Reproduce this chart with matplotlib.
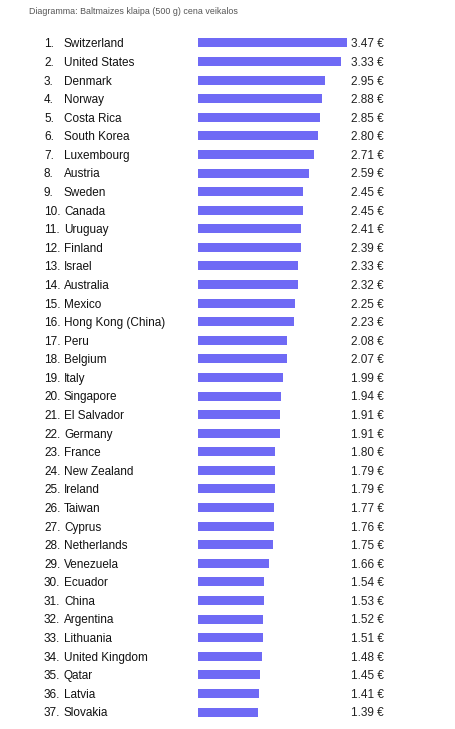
import matplotlib
matplotlib.use("Agg")
import matplotlib.pyplot as plt
from matplotlib.transforms import blended_transform_factory, ScaledTranslation

countries = ["Switzerland", "United States", "Denmark", "Norway", "Costa Rica",
             "South Korea", "Luxembourg", "Austria", "Sweden", "Canada", "Uruguay",
             "Finland", "Israel", "Australia", "Mexico", "Hong Kong (China)", "Peru",
             "Belgium", "Italy", "Singapore", "El Salvador", "Germany", "France",
             "New Zealand", "Ireland", "Taiwan", "Cyprus", "Netherlands", "Venezuela",
             "Ecuador", "China", "Argentina", "Lithuania", "United Kingdom", "Qatar",
             "Latvia", "Slovakia"]
prices = [3.47, 3.33, 2.95, 2.88, 2.85, 2.80, 2.71, 2.59, 2.45, 2.45, 2.41,
          2.39, 2.33, 2.32, 2.25, 2.23, 2.08, 2.07, 1.99, 1.94, 1.91, 1.91, 1.80,
          1.79, 1.79, 1.77, 1.76, 1.75, 1.66, 1.54, 1.53, 1.52, 1.51, 1.48, 1.45,
          1.41, 1.39]
title = "Diagramma: Baltmaizes klaipa (500 g) cena veikalos"

W, H = 456, 729
fig = plt.figure(figsize=(W / 100, H / 100), dpi=100)
fig.patch.set_facecolor("white")

n = len(countries)
row_top, row_bot = 43, 712
step = (row_bot - row_top) / (n - 1)
x0, x1 = 198, 347
ax_top = row_top - step / 2
ax_bot = row_bot + step / 2
ax = fig.add_axes([x0 / W, 1 - ax_bot / H, (x1 - x0) / W, (ax_bot - ax_top) / H])
ax.set_xlim(0, max(prices))
ax.set_ylim(n - 0.5, -0.5)
ax.axis("off")

ys = list(range(n))
ax.barh(ys, prices, height=9 / step, color="#6f6af5", left=0)

# baseline sits ~4.5 px below bar centre
tr = blended_transform_factory(fig.transFigure, ax.transData) + \
    ScaledTranslation(0, -4.4 / 100, fig.dpi_scale_trans)
font = "Liberation Sans"
fs = 8.5
for i, (c, p) in enumerate(zip(countries, prices)):
    ax.text(44 / W, i, f"{i + 1}.", transform=tr, ha="left", va="baseline",
            fontsize=fs, family=font, color="#111111")
    ax.text(64 / W, i, c, transform=tr, ha="left", va="baseline",
            fontsize=fs, family=font, color="#111111")
    ax.text(351 / W, i, f"{p:.2f} €", transform=tr, ha="left", va="baseline",
            fontsize=fs, family=font, color="#222222")

fig.text(29 / W, 1 - 11 / H, title, ha="left", va="center", fontsize=6.4,
         family=font, color="#555555")

fig.savefig("out.png", dpi=100, facecolor="white")
